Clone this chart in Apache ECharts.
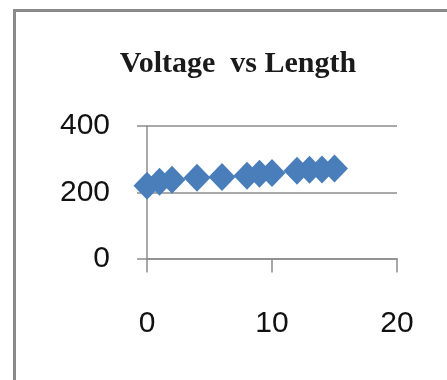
<!DOCTYPE html>
<html>
<head>
<meta charset="utf-8">
<script src="https://cdn.jsdelivr.net/npm/echarts@6/dist/echarts.min.js"></script>
<style>html,body{margin:0;padding:0;background:#fff;}#c{width:447px;height:380px;}</style>
</head>
<body>
<div id="c"></div>
<script>
var titleText = 'Voltage  vs Length';
var lengths = [0, 1, 2, 4, 6, 8, 9, 10, 12, 13, 14, 15];
var voltages = [220, 232, 238, 244, 246, 250, 256, 258, 265, 268, 269, 272];
var xTicks = [0, 10, 20];
var yTicks = [0, 200, 400];

var chart = echarts.init(document.getElementById('c'), null, {renderer: 'canvas'});
var axisColor = '#8c8c8c';
chart.setOption({
  animation: false,
  backgroundColor: '#fff',
  title: {
    text: titleText,
    left: 233, top: 44, textAlign: 'center',
    textStyle: {fontFamily: 'Liberation Serif', fontWeight: 'bold', fontSize: 30, color: '#1a1a1a'}
  },
  graphic: [{
    type: 'rect', shape: {x: 14.5, y: 10.5, width: 460, height: 400},
    style: {fill: null, stroke: '#8a8a8a', lineWidth: 3}, silent: true
  }],
  grid: {left: 147, right: 50, top: 126, bottom: 121.5},
  xAxis: {
    type: 'value', min: xTicks[0], max: xTicks[xTicks.length - 1], interval: 10,
    axisLine: {show: true, lineStyle: {color: axisColor, width: 1.5}},
    axisTick: {show: true, length: 14, lineStyle: {color: axisColor, width: 1.5}},
    splitLine: {show: false},
    axisLabel: {margin: 50, fontFamily: 'Liberation Sans', fontSize: 30, color: '#111'}
  },
  yAxis: {
    type: 'value', min: yTicks[0], max: yTicks[yTicks.length - 1], interval: 200,
    axisLine: {show: true, lineStyle: {color: axisColor, width: 1.5}},
    axisTick: {show: true, length: 10, lineStyle: {color: axisColor, width: 1.5}},
    splitLine: {show: true, lineStyle: {color: axisColor, width: 1.5}},
    axisLabel: {margin: 37, fontFamily: 'Liberation Sans', fontSize: 30, color: '#111'}
  },
  series: [{
    type: 'scatter',
    data: lengths.map(function (x, i) { return [x, voltages[i]]; }),
    symbol: 'diamond',
    symbolSize: [27, 28],
    itemStyle: {color: '#4a7ebb', opacity: 1}
  }]
});
</script>
</body>
</html>
